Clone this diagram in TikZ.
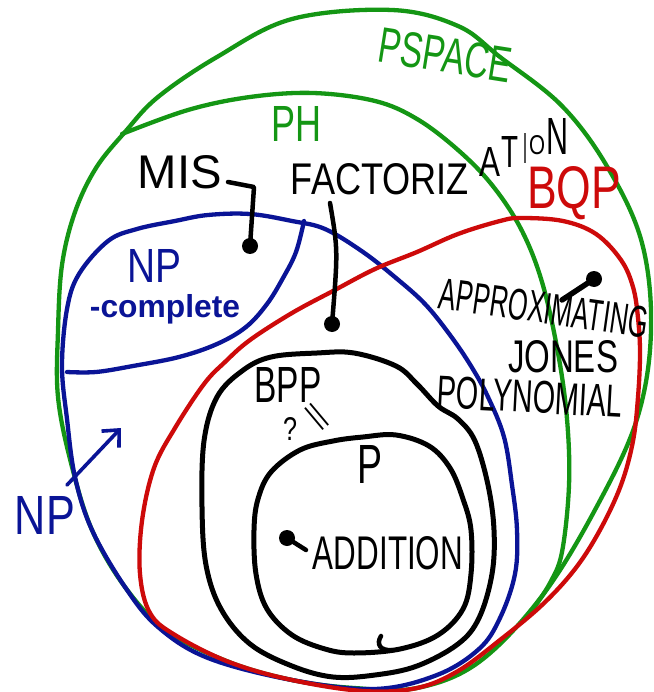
\documentclass[tikz,border=0pt]{standalone}
\usepackage{fontspec}
\setmainfont{Liberation Sans}
\usepackage{graphicx}
\usetikzlibrary{arrows.meta}
\definecolor{hgreen}{RGB}{20,150,20}
\definecolor{hblue}{RGB}{10,20,150}
\definecolor{hred}{RGB}{205,10,10}
\newcommand{\hwt}[3]{\resizebox{#1pt}{#2pt}{#3}}
\begin{document}
\begin{tikzpicture}[x=1pt,y=-1pt,
  curve/.style={line width=4.3pt, line cap=round, line join=round},
  lbl/.style={inner sep=0pt, outer sep=0pt},
  blob/.style={circle, fill=black, inner sep=0pt, minimum size=16pt},
  link/.style={line width=4.5pt, line cap=round, line join=round}]
\clip (0,0) rectangle (653,692);
\fill[white] (0,0) rectangle (653,692);

% PSPACE
\draw[curve, hgreen] plot[smooth cycle, tension=0.6] coordinates {
 (392,10) (292,19) (217,57) (158,97) (125,132) (96,168) (75,212) (62,265)
 (58,331) (58,397) (71,463) (92,530) (125,587) (167,631) (229,662) (292,680)
 (354,688) (417,688) (479,662) (542,596) (596,508) (637,419) (651,331)
 (642,243) (608,168) (562,106) (500,57) (458,26)};
% PH
\draw[curve, hgreen] plot[smooth, tension=0.6] coordinates {
 (122,134) (188,110) (250,97) (313,93) (375,101) (417,119) (458,150) (492,185)
 (521,229) (542,282) (558,353) (567,419) (569,485) (562,552) (550,583) (533,609)};
% NP
\draw[curve, hblue] plot[smooth cycle, tension=0.6] coordinates {
 (62,366) (67,309) (79,274) (108,241) (137,229) (175,221) (208,215) (250,214)
 (292,221) (325,229) (363,252) (396,278) (425,304) (450,335) (471,366) (488,397)
 (504,437) (512,485) (517,530) (515,574) (500,618) (479,649) (437,675) (375,689)
 (292,680) (208,658) (158,627) (125,587) (92,530) (75,477) (67,419)};
% NP-complete boundary
\draw[curve, hblue] plot[smooth, tension=0.6] coordinates {
 (304,221) (296,252) (283,278) (267,304) (246,327) (217,344) (179,357) (133,366) (96,372) (67,372)};
% BQP
\draw[curve, hred] plot[smooth cycle, tension=0.6] coordinates {
 (521,218) (563,221) (596,234) (621,260) (633,287) (638,318) (640,353) (638,397)
 (633,441) (621,485) (600,530) (575,569) (542,605) (500,640) (458,671) (417,688)
 (363,691) (292,680) (229,662) (175,635) (150,613) (140,574) (142,521) (154,468)
 (175,428) (204,384) (225,362) (250,340) (292,313) (333,291) (375,269) (417,252)
 (458,234) (500,221)};
% BPP
\draw[curve, black, line width=5pt] plot[smooth cycle, tension=0.6] coordinates {
 (317,353) (354,353) (396,366) (417,384) (438,406) (458,419) (475,441) (488,485)
 (494,530) (492,574) (479,618) (458,644) (417,666) (375,675) (333,677) (292,666)
 (250,644) (221,609) (206,565) (202,507) (204,441) (217,397) (242,371) (271,357)};
% P
\draw[curve, black, line width=5pt] plot[smooth cycle, tension=0.6] coordinates {
 (363,437) (396,435) (429,446) (450,468) (463,499) (471,530) (471,574) (463,609)
 (438,635) (400,649) (354,653) (325,649) (292,635) (267,609) (256,574) (254,530)
 (258,499) (271,472) (300,450) (333,441)};
\draw[curve, black, line width=4.5pt] (381,636) .. controls (376,644) and (380,651) .. (392,650);

% labels
\node[lbl, text=hgreen, rotate=-9] (pspace) at (445,55) {\hwt{134}{35}{PSPACE}};
\node[lbl, text=hgreen] (ph) at (296,124) {\hwt{50}{35}{PH}};
\node[lbl, text=hred] (bqp) at (574,193) {\hwt{94}{42}{BQP}};
\node[lbl] (mis) at (180,172) {\hwt{84}{33}{MIS}};
\node[lbl] (fact) at (380,179) {\hwt{178}{31}{FACTORIZ}};
% ATION: upright letters on a rising baseline
\node[lbl] (ationA) at (490,162) {\hwt{21}{29}{A}};
\node[lbl] (ationT) at (510,152) {\hwt{17}{31}{T}};
\node[lbl] (ationI) at (525,148) {\hwt{4}{30}{I}};
\node[lbl] (ationO) at (537,145) {\hwt{16}{19}{O}};
\node[lbl] (ationN) at (557,136) {\hwt{22}{36}{N}};
\node[lbl, text=hblue] (np) at (154,266) {\hwt{54}{33}{NP}};
\node[lbl, text=hblue] (npc) at (165,309) {\resizebox{150pt}{!}{\bfseries -complete}};
\node[lbl, text=hblue] (nplow) at (45,515) {\hwt{60}{38}{NP}};
\node[lbl, rotate=-8] (approx) at (544,308) {\hwt{210}{31}{APPROXIMATING}};
\node[lbl] (jones) at (563,357) {\hwt{110}{32}{JONES}};
\node[lbl, rotate=-3] (poly) at (530,397) {\hwt{185}{32}{POLYNOMIAL}};
\node[lbl] (bpp) at (288,385) {\hwt{67}{35}{BPP}};
\node[lbl] (qm) at (290,429) {\hwt{14}{23}{?}};
\node[lbl, rotate=-50] (eq) at (315,418) {\hwt{34}{13}{=}};
\node[lbl] (p) at (370,464) {\hwt{25}{38}{P}};
\node[lbl] (add) at (388,553) {\hwt{150}{33}{ADDITION}};

% dots and connectors
\node[blob] (misdot) at (250,246) {};
\node[blob] (factdot) at (332,324) {};
\node[blob] (apxdot) at (594,279) {};
\node[blob] (adddot) at (287,538) {};
\coordinate (misA) at (228,182);
\coordinate (factA) at (330,203);
\coordinate (apxA) at (562,300);
\coordinate (addA) at (306,550);
\draw[link] (misA) -- (254,187) -- (misdot.center);
\draw[link] (factA) .. controls (338,250) .. (factdot.center);
\draw[link, line width=5.5pt] (apxA) -- (apxdot.center);
\draw[link] (addA) -- (adddot.center);

% NP arrow
\coordinate (nparrowA) at (67,485);
\coordinate (nparrowB) at (121,428);
\draw[line width=3.6pt, hblue, line cap=round, -{Straight Barb[length=13pt, width=24pt, line width=3.6pt]}] (nparrowA) -- (nparrowB);
\end{tikzpicture}
\end{document}
